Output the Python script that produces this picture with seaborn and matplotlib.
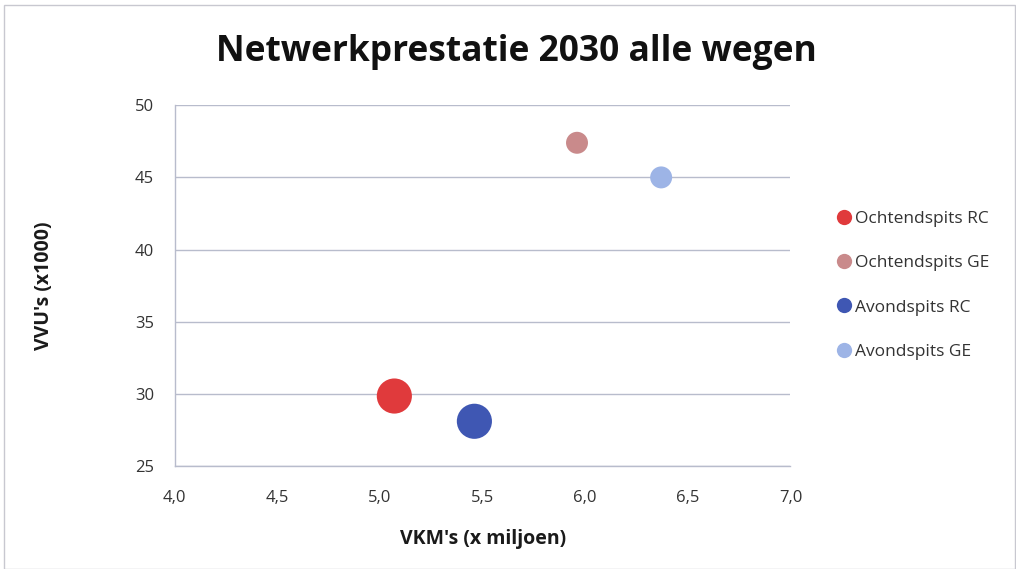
import matplotlib
matplotlib.use("Agg")
import matplotlib.pyplot as plt
from matplotlib.lines import Line2D
from matplotlib.patches import Rectangle
import seaborn as sns
import pandas as pd

series = ["Ochtendspits RC", "Ochtendspits GE", "Avondspits RC", "Avondspits GE"]
vkm = [5.07, 5.96, 5.46, 6.37]
vvu = [29.85, 47.4, 28.1, 45.0]
bubble = [35, 22, 35, 22]
colors = ["#E03A3C", "#C98A8B", "#3F57B3", "#9DB4E6"]
xticks = [4.0, 4.5, 5.0, 5.5, 6.0, 6.5, 7.0]
yticks = [25, 30, 35, 40, 45, 50]

df = pd.DataFrame({"series": series, "vkm": vkm, "vvu": vvu, "bubble": bubble})

sns.set_theme(style="white")
plt.rcParams["font.family"] = ["Open Sans", "DejaVu Sans"]

fig = plt.figure(figsize=(10.16, 5.69), dpi=100)
ax = fig.add_axes([0.172, 0.181, 0.606, 0.634])

sns.scatterplot(data=df, x="vkm", y="vvu", hue="series", palette=colors,
                size="bubble", sizes=(250, 640), legend=False, ax=ax,
                edgecolor="none", zorder=3)

ax.set_xlim(4.0, 7.0)
ax.set_ylim(25, 50)
ax.set_xticks(xticks)
ax.set_yticks(yticks)
ax.set_xticklabels([f"{t:.1f}".replace(".", ",") for t in xticks], fontsize=12, color="#333333")
ax.set_yticklabels([str(t) for t in yticks], fontsize=12, color="#333333")
ax.tick_params(axis="x", length=0, pad=17)
ax.tick_params(axis="y", length=0, pad=15)
ax.grid(axis="y", color="#B8BCCC", linewidth=1.0)
ax.set_axisbelow(True)
for s in ["top", "right"]:
    ax.spines[s].set_visible(False)
for s in ["left", "bottom"]:
    ax.spines[s].set_color("#B8BCCC")
    ax.spines[s].set_linewidth(1.0)

ax.set_xlabel("VKM's (x miljoen)", fontsize=14, fontweight="bold", labelpad=17, color="#1a1a1a")
ax.set_ylabel("VVU's (x1000)", fontsize=14, fontweight="bold", labelpad=58, color="#1a1a1a")

fig.suptitle("Netwerkprestatie 2030 alle wegen", fontsize=25.5, fontweight="bold",
             x=0.508, y=0.94, color="#111111")

handles = [Line2D([0], [0], marker="o", color="none", markerfacecolor=c,
                  markeredgecolor="none", markersize=11) for c in colors]
fig.legend(handles, series, loc="upper left", bbox_to_anchor=(0.805, 0.657),
           frameon=False, fontsize=12.5, handletextpad=0.05, labelspacing=1.62,
           handlelength=1.2, labelcolor="#333333")

fig.patches.append(Rectangle((0.004, 0.0), 0.995, 0.992, transform=fig.transFigure,
                             fill=False, edgecolor="#C8C8D0", linewidth=1.0))

fig.savefig("out.png", dpi=100)
